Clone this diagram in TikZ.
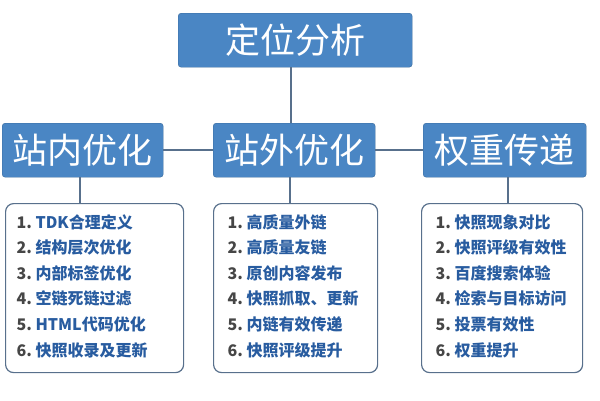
\documentclass[tikz,border=0pt]{standalone}
\usepackage{fontspec}
\newfontfamily\cjk{Noto Sans CJK SC}
\usetikzlibrary{positioning}
\definecolor{boxblue}{RGB}{74,134,196}
\definecolor{linegray}{RGB}{88,112,140}
\definecolor{listblue}{RGB}{40,92,160}
\definecolor{numgray}{RGB}{70,70,70}
\tikzset{>=latex}

\begin{document}
\begin{tikzpicture}[x=1pt, y=-1pt, font=\cjk]
		\tikzset{headbox/.style={fill=boxblue,draw=boxblue!80!black,rounded corners=3pt,text=white,font=\cjk\fontsize{35}{38}\selectfont,inner sep=0pt,anchor=north west},
		         listbox/.style={draw=linegray,line width=1.2pt,rounded corners=8pt,fill=white,anchor=north west,inner sep=0pt},
		         link/.style={draw=linegray,line width=2.2pt},
		         item/.style={anchor=west,font=\cjk\bfseries\fontsize{16}{18}\selectfont,text=listblue}}
		\useasboundingbox (0,0) rectangle (600,400);

		\node[headbox,minimum width=234pt,minimum height=54pt] (top)    at (178,13)  {定位分析};
		\node[headbox,minimum width=161pt,minimum height=54pt] (inner)  at (2,123)   {站内优化};
		\node[headbox,minimum width=162pt,minimum height=54pt] (outer)  at (213,123) {站外优化};
		\node[headbox,minimum width=163pt,minimum height=54pt] (weight) at (423,123) {权重传递};

		\node[listbox,minimum width=178pt,minimum height=169pt] (innerlist)  at (5,203)   {};
		\node[listbox,minimum width=164pt,minimum height=169pt] (outerlist)  at (213,203) {};
		\node[listbox,minimum width=161pt,minimum height=169pt] (weightlist) at (421,203) {};

		% connectors
		\draw[link] (top.south -| 291,0) -- (outer.north -| 291,0);
		\draw[link] (inner.east) -- (outer.west);
		\draw[link] (outer.east) -- (weight.west);
		\draw[link] (inner.south -| 80,0) -- (innerlist.north -| 80,0);
		\draw[link] (outer.south -| 290,0) -- (outerlist.north -| 290,0);
		\draw[link] (weight.south -| 508,0) -- (weightlist.north -| 508,0);

		% list entries
		\foreach \txt [count=\i] in {TDK合理定义,结构层次优化,内部标签优化,空链死链过滤,HTML代码优化,快照收录及更新}
			\node[item] at (13,{222+(\i-1)*25.6}) {\textcolor{numgray}{\i.}~\txt};
		\foreach \txt [count=\i] in {高质量外链,高质量友链,原创内容发布,{快照抓取、更新},内链有效传递,快照评级提升}
			\node[item] at (224,{222+(\i-1)*25.6}) {\textcolor{numgray}{\i.}~\txt};
		\foreach \txt [count=\i] in {快照现象对比,快照评级有效性,百度搜索体验,检索与目标访问,投票有效性,权重提升}
			\node[item] at (432,{222+(\i-1)*25.6}) {\textcolor{numgray}{\i.}~\txt};
	\end{tikzpicture}
\end{document}
